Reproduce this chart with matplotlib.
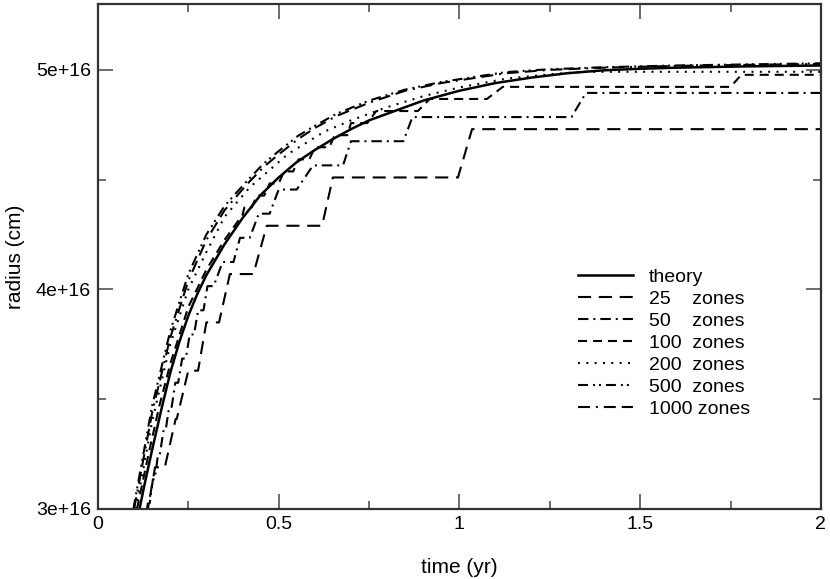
import matplotlib
matplotlib.use("Agg")
import matplotlib.pyplot as plt
from matplotlib.ticker import MultipleLocator, FuncFormatter

plt.rcParams['font.family'] = ['Liberation Sans', 'DejaVu Sans']
plt.rcParams['lines.scale_dashes'] = False

UNIT = 1e16  # radius values below are in units of 1e16 cm

# theory curve
theory_t = [0.115, 0.13, 0.15, 0.175, 0.2, 0.225, 0.25, 0.275, 0.3, 0.35, 0.4, 0.45, 0.5, 0.55,
            0.6, 0.65, 0.7, 0.75, 0.8, 0.9, 1.0, 1.1, 1.2, 1.3, 1.4, 1.5, 1.6, 1.7, 1.8, 1.9, 2.0]
theory_r = [3.00, 3.12, 3.27, 3.45, 3.62, 3.76, 3.88, 3.98, 4.065, 4.205, 4.325, 4.43, 4.51, 4.58,
            4.635, 4.685, 4.73, 4.77, 4.80, 4.86, 4.905, 4.94, 4.965, 4.985, 4.998, 5.005, 5.01,
            5.013, 5.016, 5.018, 5.02]

# 25 zones: level held between on/off times
lev25 = [2.97, 3.19, 3.41, 3.63, 3.85, 4.07, 4.29, 4.51, 4.73]
on25 = [0.13, 0.158, 0.215, 0.25, 0.30, 0.365, 0.467, 0.65, 1.035]
off25 = [0.135, 0.185, 0.218, 0.277, 0.335, 0.43, 0.62, 0.996, 2.0]

# 50 zones
lev50 = [2.915, 3.025, 3.135, 3.245, 3.355, 3.465, 3.575, 3.685, 3.795, 3.905, 4.015, 4.125,
         4.235, 4.345, 4.455, 4.565, 4.675, 4.785, 4.895]
on50 = [0.120, 0.138, 0.152, 0.166, 0.181, 0.197, 0.214, 0.233, 0.254, 0.277, 0.303, 0.345,
        0.393, 0.445, 0.50, 0.595, 0.70, 0.87, 1.35]
off50 = [0.128, 0.143, 0.157, 0.171, 0.187, 0.204, 0.222, 0.243, 0.266, 0.292, 0.32, 0.375,
         0.42, 0.475, 0.55, 0.678, 0.845, 1.31, 2.0]

# 100 zones: early part, then levels
t100_early = [0.108, 0.14, 0.17, 0.2, 0.25, 0.3, 0.35, 0.4]
r100_early = [3.0, 3.25, 3.47, 3.66, 3.92, 4.09, 4.225, 4.34]
lev100 = [4.3725, 4.4275, 4.4825, 4.5375, 4.5925, 4.6475, 4.7025, 4.7575, 4.8125, 4.8675,
          4.9225, 4.9775]
on100 = [0.405, 0.44, 0.475, 0.515, 0.555, 0.60, 0.655, 0.70, 0.77, 0.918, 1.12, 1.78]
off100 = [0.425, 0.46, 0.50, 0.54, 0.585, 0.64, 0.69, 0.745, 0.885, 1.076, 1.75, 2.0]

# 200 zones
t200 = [0.105, 0.15, 0.2, 0.25, 0.3, 0.35, 0.42, 0.5, 0.526, 0.628, 0.7, 0.8, 0.9, 1.0, 1.13,
        1.25, 1.35, 2.0]
r200 = [3.0, 3.4, 3.75, 4.0, 4.17, 4.33, 4.465, 4.58, 4.617, 4.72, 4.77, 4.83, 4.88, 4.92, 4.96,
        4.98, 4.99125, 4.99125]

# 500 zones
t500 = [0.098, 0.15, 0.2, 0.25, 0.3, 0.35, 0.41, 0.457, 0.5, 0.554, 0.6, 0.66, 0.75, 0.85, 0.95,
        1.05, 1.13, 1.25, 1.4, 1.6, 1.8, 2.0]
r500 = [3.0, 3.47, 3.81, 4.07, 4.25, 4.38, 4.49, 4.571, 4.63, 4.70, 4.745, 4.80, 4.86, 4.91, 4.945,
        4.97, 4.99, 5.003, 5.012, 5.02, 5.025, 5.03]

# 1000 zones
t1000 = [0.10, 0.15, 0.2, 0.25, 0.3, 0.35, 0.41, 0.46, 0.5, 0.554, 0.6, 0.66, 0.75, 0.85, 0.95,
         1.05, 1.13, 1.25, 1.4, 1.6, 1.8, 2.0]
r1000 = [3.0, 3.44, 3.78, 4.04, 4.225, 4.36, 4.475, 4.56, 4.615, 4.685, 4.735, 4.79, 4.85, 4.905,
         4.94, 4.965, 4.985, 5.0, 5.01, 5.018, 5.023, 5.027]

labels = ["theory", "25    zones", "50    zones", "100  zones", "200  zones", "500  zones",
          "1000 zones"]


def steps(levels, ons, offs):
    ts, rs = [], []
    for lv, a, b in zip(levels, ons, offs):
        ts += [a, b]
        rs += [lv, lv]
    return ts, rs


fig = plt.figure(figsize=(8.3, 5.79), dpi=100)
ax = fig.add_axes([0.118, 0.1209, 0.871, 0.8722])

lw = 1.5
s25 = steps(lev25, on25, off25)
s50 = steps(lev50, on50, off50)
s100 = steps(lev100, on100, off100)
t100 = t100_early + s100[0]
r100 = r100_early + s100[1]

ax.plot(theory_t, [v * UNIT for v in theory_r], color='black', lw=1.8, label=labels[0])
ax.plot(s25[0], [v * UNIT for v in s25[1]], color='black', lw=lw, dashes=(9.4, 5.6), label=labels[1])
ax.plot(s50[0], [v * UNIT for v in s50[1]], color='black', lw=lw, dashes=(7.5, 3.6, 1.4, 3.6),
        label=labels[2])
ax.plot(t100, [v * UNIT for v in r100], color='black', lw=lw, dashes=(6.5, 4.3), label=labels[3])
ax.plot(t200, [v * UNIT for v in r200], color='black', lw=lw, dashes=(1.4, 4.6), label=labels[4])
ax.plot(t500, [v * UNIT for v in r500], color='black', lw=lw, dashes=(7.2, 3.6, 1.4, 2.9, 1.4, 3.6),
        label=labels[5])
ax.plot(t1000, [v * UNIT for v in r1000], color='black', lw=lw,
        dashes=(8.6, 4.3, 1.4, 4.3, 8.6, 4.3), label=labels[6])

ax.set_xlim(0, 2)
ax.set_ylim(3e16, 5.3e16)
ax.xaxis.set_major_locator(MultipleLocator(0.5))
ax.xaxis.set_minor_locator(MultipleLocator(0.25))
ax.yaxis.set_major_locator(MultipleLocator(1e16))
ax.yaxis.set_minor_locator(MultipleLocator(0.5e16))
ax.xaxis.set_major_formatter(FuncFormatter(lambda v, p: f"{v:g}"))
ax.yaxis.set_major_formatter(FuncFormatter(lambda v, p: f"{v / UNIT:.0f}e+16"))

ax.tick_params(which='both', direction='in', top=True, right=True, color='#444444',
               labelsize=14, width=1.1, pad=5)
ax.tick_params(which='major', length=10.5)
ax.tick_params(which='minor', length=5.5)
for sp in ax.spines.values():
    sp.set_linewidth(1.6)
    sp.set_color('#333333')

ax.set_xlabel("time (yr)", fontsize=15, labelpad=18)
ax.set_ylabel("radius (cm)", fontsize=15, labelpad=8)

leg = ax.legend(loc='upper left', bbox_to_anchor=(0.6453, 0.503), frameon=False, fontsize=14,
                handlelength=2.8, handletextpad=0.85, labelspacing=0.22, borderpad=0.2)

fig.savefig("out.png", dpi=100)
